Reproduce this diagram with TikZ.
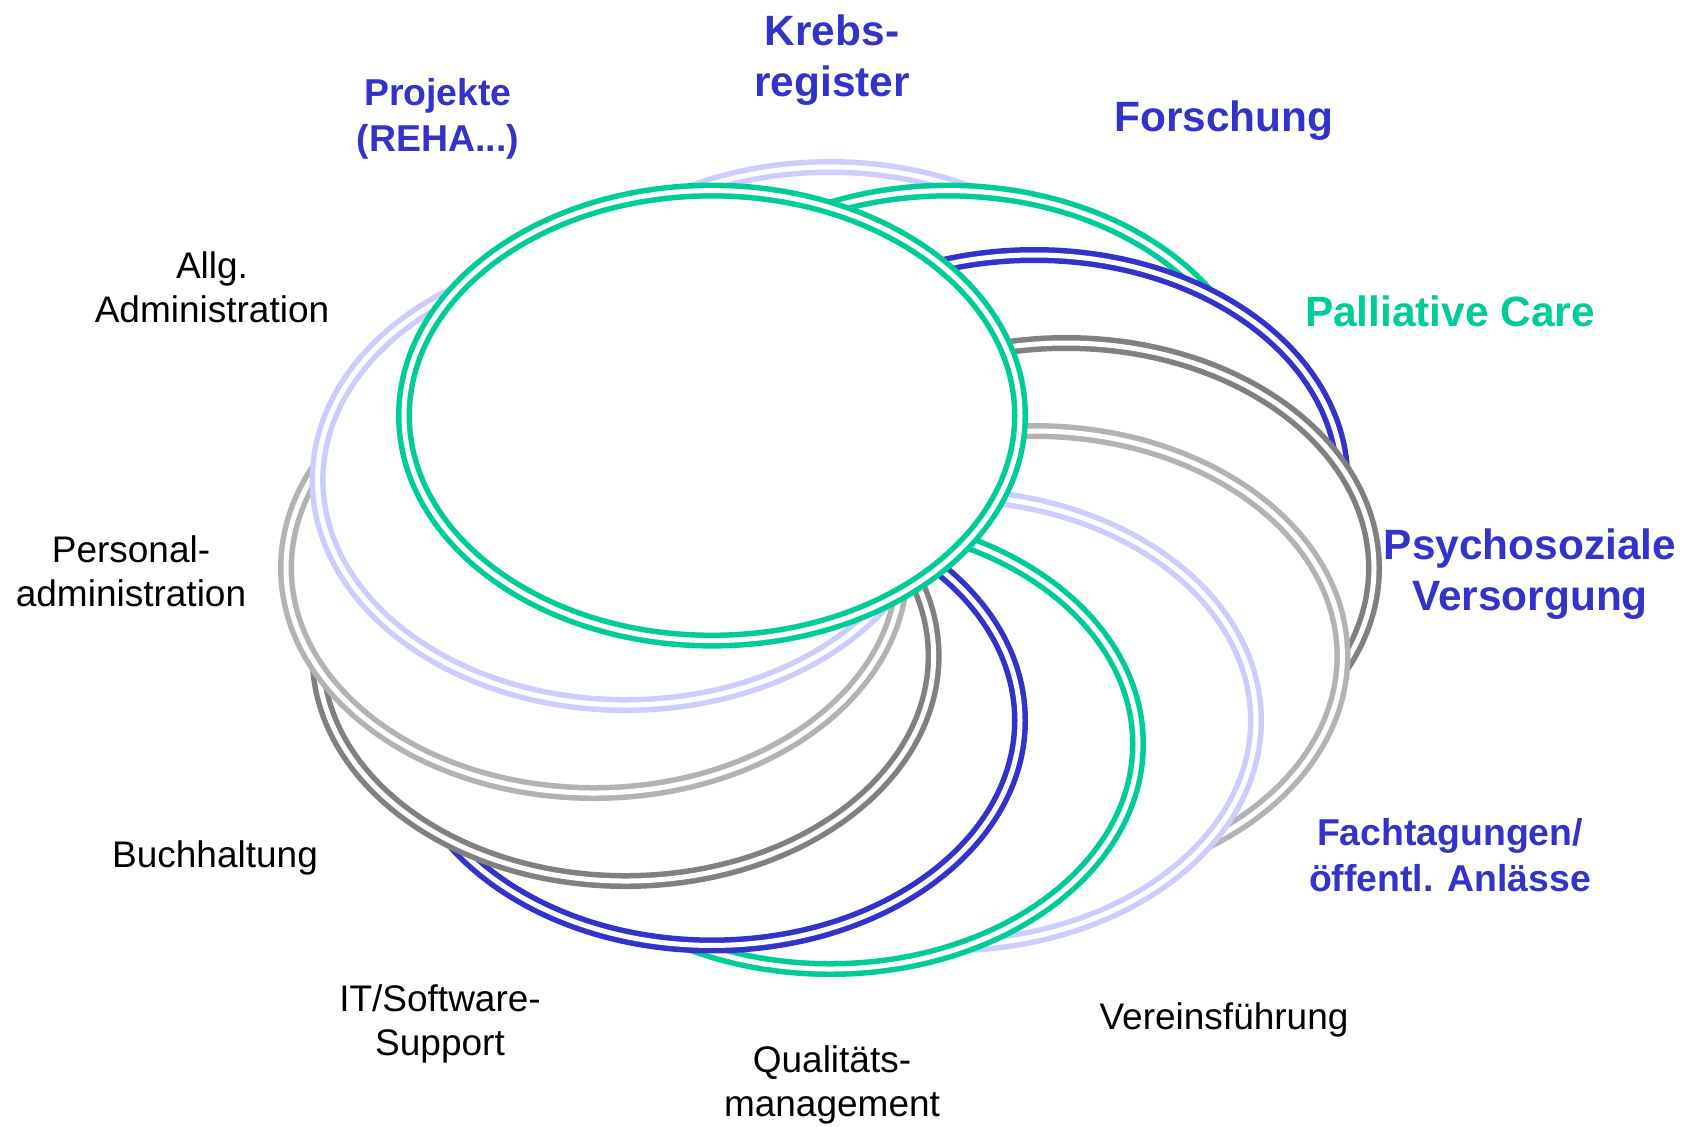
\documentclass[tikz,border=0pt]{standalone}
\usepackage{fontspec}
\setmainfont{Liberation Sans}

\definecolor{ringgreen}{RGB}{0,204,153}
\definecolor{ringblue}{RGB}{51,51,204}
\definecolor{ringlav}{RGB}{204,204,255}
\definecolor{ringdark}{RGB}{128,128,128}
\definecolor{ringlight}{RGB}{178,178,178}

\tikzset{
  ring/.style={line width=2.75pt, double=white, double distance=2.5pt, fill=white},
  mainlbl/.style={align=center, inner sep=0pt, text=ringblue,
    font=\bfseries\fontsize{21.2}{25.5}\selectfont},
  sidelbl/.style={align=center, inner sep=0pt, text=ringblue,
    font=\bfseries\fontsize{18.7}{23}\selectfont},
  plainlbl/.style={align=center, inner sep=0pt,
    font=\fontsize{18.5}{22}\selectfont}
}

\begin{document}
\begin{tikzpicture}[x=0.5pt,y=-0.5pt]
\useasboundingbox (0,0) rectangle (1684,1126);
\coordinate (hub) at (830,568);
% rings, each one on top of the one before
\foreach \a/\c in {90/ringlav, 60/ringgreen, 30/ringblue, 0/ringdark, -30/ringlight,
                   -60/ringlav, -90/ringgreen, -120/ringblue, -150/ringdark,
                   180/ringlight, 150/ringlav, 120/ringgreen}
  \draw[ring, draw=\c] (hub) ++(\a:236 and -176) ellipse [x radius=308, y radius=225];

% labels
\node[sidelbl] (projekte) at (438,119) {Projekte\\(REHA...)};
\node[mainlbl] (krebs) at (832,60) {Krebs-\\register};
\node[mainlbl] (forschung) at (1224,121) {Forschung};
\node[mainlbl, text=ringgreen] (palliativ) at (1450,311) {Palliative Care};
\node[mainlbl] (psycho) at (1530,574) {Psychosoziale\\Versorgung};
\node[sidelbl] (fachtag) at (1450,855) {Fachtagungen/\\öffentl. Anlässe};
\node[plainlbl] (verein) at (1224,1020) {Vereinsführung};
\node[plainlbl] (quali) at (832,1085) {Qualitäts-\\management};
\node[plainlbl] (itsupport) at (440,1024) {IT/Software-\\Support};
\node[plainlbl] (buch) at (215,858) {Buchhaltung};
\node[plainlbl] (personal) at (131,571) {Personal-\\administration};
\node[plainlbl] (allg) at (212,287) {Allg.\\Administration};
\end{tikzpicture}
\end{document}
